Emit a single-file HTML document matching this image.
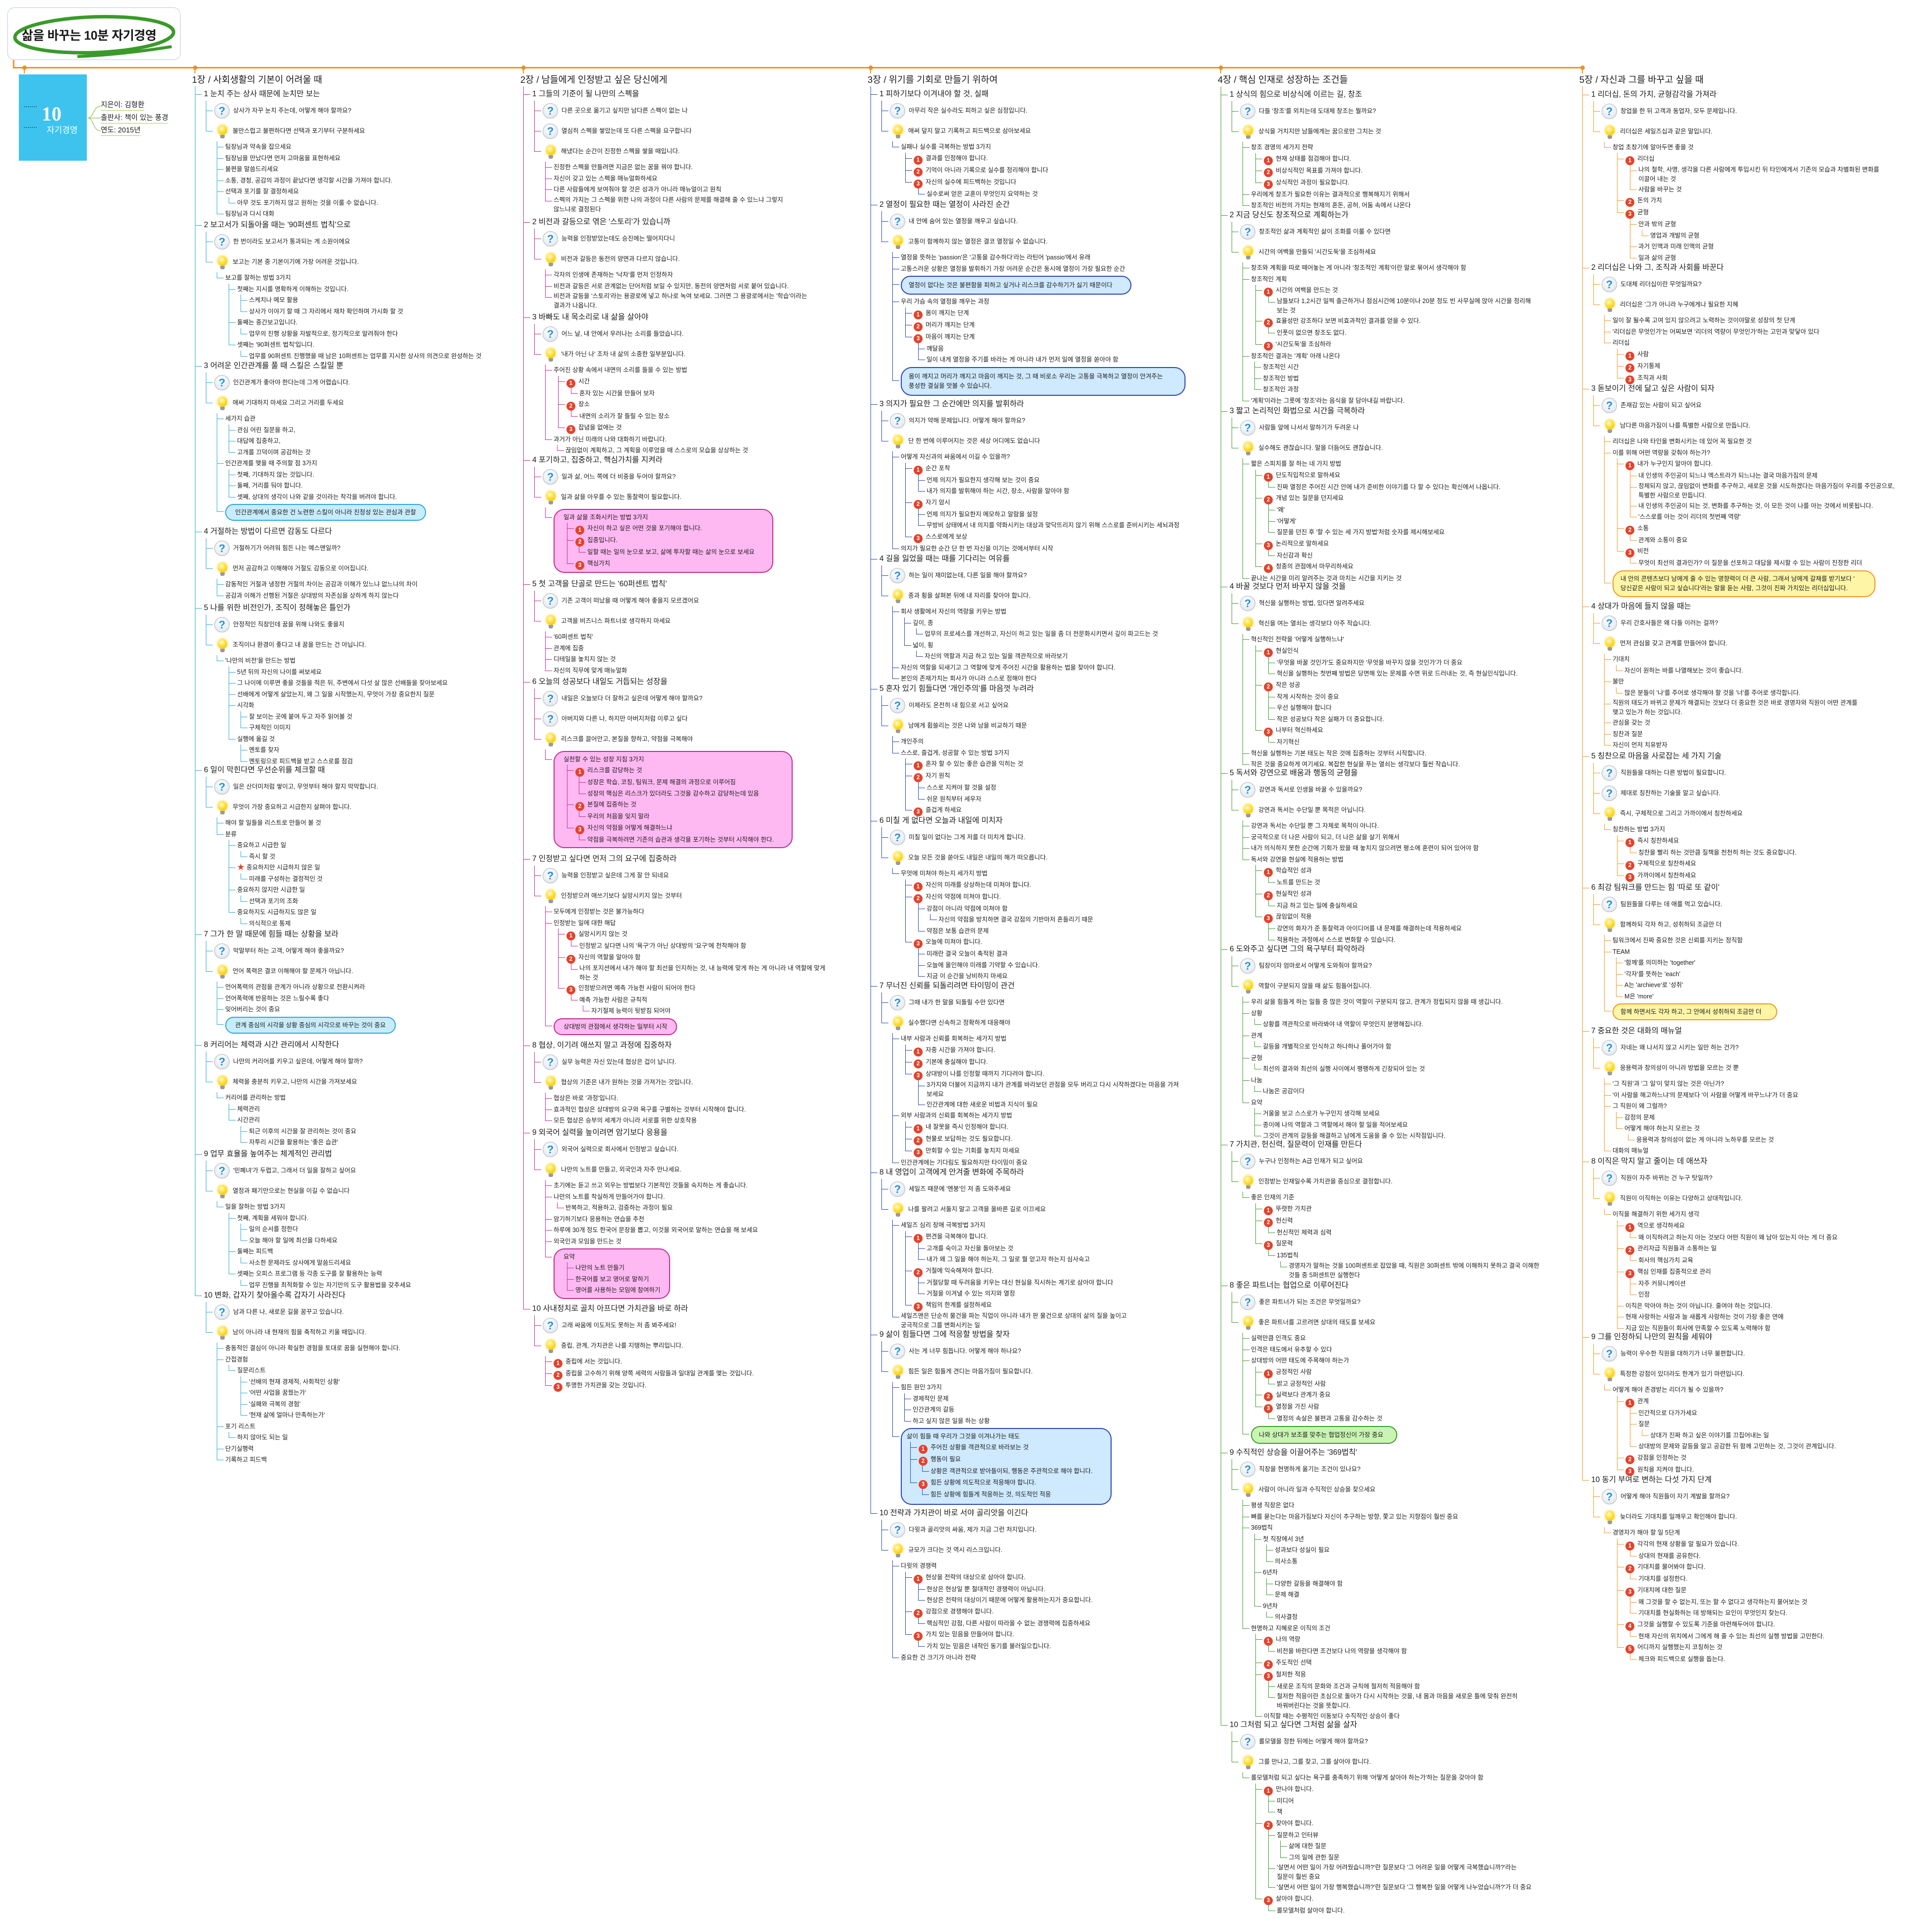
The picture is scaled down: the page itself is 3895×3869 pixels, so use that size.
<!DOCTYPE html>
<html lang="ko"><head><meta charset="utf-8">
<style>
html,body{margin:0;padding:0;background:#fff}
body{width:3895px;height:3869px;overflow:hidden;position:relative;font-family:"Liberation Sans","Noto Sans CJK KR",sans-serif;color:#1a1a1a}
.title{position:absolute;left:15px;top:15px;width:349px;height:106px;border:1.5px solid #b9c9e2;border-radius:14px;box-sizing:border-box}
.title svg{position:absolute;left:0;top:0}
.title .tt{position:absolute;left:28px;top:36px;font-size:25px;font-weight:bold;letter-spacing:-0.5px;white-space:nowrap}
.ol{position:absolute;background:#f39020}
.dot{position:absolute;width:9px;height:9px;border-radius:50%;background:#f39020}
.book{position:absolute;left:38px;top:150px;width:137px;height:174px;background:#3ec3ee}
.book .n{position:absolute;left:46px;top:56px;color:#fff;font-family:"Liberation Serif",serif;font-size:40px;font-weight:bold}
.book .k{position:absolute;left:56px;top:98px;color:#fff;font-size:17px}
.book .s1{position:absolute;left:10px;top:64px;width:26px;height:40px;border-top:2px dotted #1d6f8f;border-bottom:2px dotted #1d6f8f}
.info{position:absolute;left:203px;font-size:14.5px;white-space:nowrap;border-bottom:1.5px solid #9ccc6a;padding-bottom:1px}
.col{position:absolute;top:0}
.ch{position:absolute;left:-6px;top:149px;font-size:18.5px;white-space:nowrap;line-height:24px}
.vl{position:absolute;left:0;top:174px;border-left:1.5px solid var(--c)}
.s{position:absolute;left:0}
.h{position:relative;padding-left:18px;height:26px;line-height:26px;font-size:15.5px;white-space:nowrap}
.h::before{content:"";position:absolute;left:0;top:13px;width:14px;border-top:1.5px solid var(--c)}
ul{list-style:none;margin:0 0 0 7px;padding:0 0 0 17px}
ul.g{margin-left:22px}
ul.L{margin-left:5px}
ul.m{margin-left:9px}
li{--m:11px;position:relative;white-space:nowrap;line-height:22.5px;font-size:12.5px}
li::before{content:"";position:absolute;left:-17px;top:0;height:var(--m);width:13px;border-left:1.5px solid var(--c);border-bottom:1.5px solid var(--c)}
li::after{content:"";position:absolute;left:-17px;top:var(--m);bottom:0;border-left:1.5px solid var(--c)}
li:last-child::after{display:none}
.g>li{--m:20px}
.r{display:flex;align-items:center;height:41px;font-size:12.5px}
.qi{display:inline-block;width:29px;height:29px;border-radius:50%;background:radial-gradient(circle at 45% 35%,#ffffff,#e6eaef 70%,#c9d0d8);border:1.5px solid #aeb7c2;color:#1f8fe0;font-style:normal;font-weight:bold;font-size:22px;line-height:29px;text-align:center;margin-right:7px;box-sizing:content-box}
.bi{display:inline-block;position:relative;width:32px;height:34px;margin-right:5px}
.bi::before{content:"";position:absolute;left:7px;top:4px;width:19px;height:20px;border-radius:50%;background:radial-gradient(circle at 40% 35%,#fffbd0,#ffd91a 55%,#f2b400);box-shadow:0 0 0 3px rgba(255,220,80,.35)}
.bi::after{content:"";position:absolute;left:12px;top:24px;width:9px;height:7px;background:#9a9a9a;border-radius:0 0 3px 3px}
b{display:inline-block;width:18px;height:18px;border-radius:50%;background:#e3432c;color:#fff;font-size:11.5px;line-height:18px;text-align:center;margin-right:6px;vertical-align:-3px;font-weight:bold}
.st{color:#e3432c;font-size:15px;margin-right:4px}
.bx{display:inline-block;border:2px solid var(--c);border-radius:22px;padding:4px 18px;margin:3px 0;line-height:22px}
.bx ul{margin-left:7px}
.cy{background:#c8ecfb}
.pk{background:#ffb9f2}
.lb{background:#cfe9ff}
.gr{background:#c9f4b2}
.yl{background:#fff5a6}
</style></head><body>

<div class="title">
<svg width="349" height="106" viewBox="0 0 349 106"><ellipse cx="174" cy="54" rx="160" ry="36" fill="none" stroke="#3a9a2a" stroke-width="7" transform="rotate(-2 174 54)"/><path d="M140 98 Q230 94 330 78" stroke="#3a9a2a" stroke-width="6" fill="none"/></svg>
<div class="tt">삶을 바꾸는 10분 자기경영</div>
</div>
<div class="ol" style="left:26px;top:121px;width:2.5px;height:16px"></div>
<div class="ol" style="left:26px;top:135px;width:3166px;height:2.5px"></div>
<div class="dot" style="left:45px;top:132px"></div><div class="ol" style="left:48px;top:136px;width:2px;height:12px"></div>
<div class="dot" style="left:389px;top:132px"></div><div class="ol" style="left:392px;top:136px;width:2px;height:12px"></div>
<div class="dot" style="left:1051px;top:132px"></div><div class="ol" style="left:1054px;top:136px;width:2px;height:12px"></div>
<div class="dot" style="left:1751px;top:132px"></div><div class="ol" style="left:1754px;top:136px;width:2px;height:12px"></div>
<div class="dot" style="left:2457px;top:132px"></div><div class="ol" style="left:2460px;top:136px;width:2px;height:12px"></div>
<div class="dot" style="left:3186px;top:132px"></div><div class="ol" style="left:3189px;top:136px;width:2px;height:12px"></div>

<div class="book"><div class="s1"></div><div class="n">10</div><div class="k">자기경영</div></div>
<svg style="position:absolute;left:175px;top:200px" width="40" height="80"><path d="M2 38 C14 38 12 14 28 14 M2 38 L28 38 M2 38 C14 38 12 64 28 64" stroke="#9ccc6a" stroke-width="1.5" fill="none"/></svg>
<div class="info" style="top:200px">지은이: 김형환</div>
<div class="info" style="top:226px">출판사: 책이 있는 풍경</div>
<div class="info" style="top:251px">연도: 2015년</div>

<!-- ============ COLUMN 1 ============ -->
<div class="col" style="left:393px;--c:#2ba6dc">
<div class="ch">1장 / 사회생활의 기본이 어려울 때</div>
<div class="vl" style="height:2438px"></div>

<div class="s" style="top:177px"><div class="h">1 눈치 주는 상사 때문에 눈치만 보는</div>
<ul class="g"><li><span class="r"><i class="qi">?</i>상사가 자꾸 눈치 주는데, 어떻게 해야 할까요?</span></li>
<li><span class="r"><i class="bi"></i>불만스럽고 불편하다면 선택과 포기부터 구분하세요</span>
<ul class="L"><li>팀장님과 약속을 잡으세요</li><li>팀장님을 만났다면 먼저 고마움을 표현하세요</li><li>불편을 말씀드리세요</li><li>소통, 경청, 공감의 과정이 끝났다면 생각할 시간을 가져야 합니다.</li><li>선택과 포기를 잘 결정하세요<ul><li>아무 것도 포기하지 않고 원하는 것을 이룰 수 없습니다.</li></ul></li><li>팀장님과 다시 대화</li></ul></li></ul></div>

<div class="s" style="top:441px"><div class="h">2 보고서가 되돌아올 때는 '90퍼센트 법칙'으로</div>
<ul class="g"><li><span class="r"><i class="qi">?</i>한 번이라도 보고서가 통과되는 게 소원이에요</span></li>
<li><span class="r"><i class="bi"></i>보고는 기본 중 기본이기에 가장 어려운 것입니다.</span>
<ul class="L"><li>보고를 잘하는 방법 3가지<ul><li>첫째는 지시를 명확하게 이해하는 것입니다.<ul><li>스케치나 메모 활용</li><li>상사가 이야기 할 때 그 자리에서 재차 확인하며 가시화 할 것</li></ul></li><li>둘째는 중간보고입니다.<ul><li>업무의 진행 상황을 자발적으로, 정기적으로 알려줘야 한다</li></ul></li><li>셋째는 '90퍼센트 법칙'입니다.<ul><li>업무를 90퍼센트 진행했을 때 남은 10퍼센트는 업무를 지시한 상사의 의견으로 완성하는 것</li></ul></li></ul></li></ul></li></ul></div>

<div class="s" style="top:725px"><div class="h">3 어려운 인간관계를 풀 때 스킬은 스킬일 뿐</div>
<ul class="g"><li><span class="r"><i class="qi">?</i>인간관계가 좋아야 한다는데 그게 어렵습니다.</span></li>
<li><span class="r"><i class="bi"></i>애써 기대하지 마세요 그리고 거리를 두세요</span>
<ul class="L"><li>세가지 습관<ul><li>관심 어린 질문을 하고,</li><li>대답에 집중하고,</li><li>고개를 끄덕이며 공감하는 것</li></ul></li><li>인간관계를 맺을 때 주의할 점 3가지<ul><li>첫째, 기대하지 않는 것입니다.</li><li>둘째, 거리를 둬야 합니다.</li><li>셋째, 상대의 생각이 나와 같을 것이라는 착각을 버려야 합니다.</li></ul></li><li style="--m:18px"><div class="bx cy">인간관계에서 중요한 건 노련한 스킬이 아니라 진정성 있는 관심과 관찰</div></li></ul></li></ul></div>

<div class="s" style="top:1059px"><div class="h">4 거절하는 방법이 다르면 감동도 다르다</div>
<ul class="g"><li><span class="r"><i class="qi">?</i>거절하기가 어려워 힘든 나는 예스맨일까?</span></li>
<li><span class="r"><i class="bi"></i>먼저 공감하고 이해해야 거절도 감동으로 이어집니다.</span>
<ul class="L"><li>감동적인 거절과 냉정한 거절의 차이는 공감과 이해가 있느냐 없느냐의 차이</li><li>공감과 이해가 선행된 거절은 상대방의 자존심을 상하게 하지 않는다</li></ul></li></ul></div>

<div class="s" style="top:1213px"><div class="h">5 나를 위한 비전인가, 조직이 정해놓은 틀인가</div>
<ul class="g"><li><span class="r"><i class="qi">?</i>안정적인 직장인데 꿈을 위해 나와도 좋을지</span></li>
<li><span class="r"><i class="bi"></i>조직이나 환경이 좋다고 내 꿈을 만드는 건 아닙니다.</span>
<ul class="L"><li>'나만의 비전'을 만드는 방법<ul><li>5년 뒤의 자신의 나이를 써보세요</li><li>그 나이에 이루면 좋을 것들을 적은 뒤, 주변에서 다섯 살 많은 선배들을 찾아보세요</li><li>선배에게 어떻게 살았는지, 왜 그 일을 시작했는지, 무엇이 가장 중요한지 질문</li><li>시각화<ul><li>잘 보이는 곳에 붙여 두고 자주 읽어볼 것</li><li>구체적인 이미지</li></ul></li><li>실행에 옮길 것<ul><li>멘토를 찾자</li><li>멘토링으로 피드백을 받고 스스로를 점검</li></ul></li></ul></li></ul></li></ul></div>

<div class="s" style="top:1540px"><div class="h">6 일이 막힌다면 우선순위를 체크할 때</div>
<ul class="g"><li><span class="r"><i class="qi">?</i>일은 산더미처럼 쌓이고, 무엇부터 해야 할지 막막합니다.</span></li>
<li><span class="r"><i class="bi"></i>무엇이 가장 중요하고 시급한지 살펴야 합니다.</span>
<ul class="L"><li>해야 할 일들을 리스트로 만들어 볼 것</li><li>분류<ul><li>중요하고 시급한 일<ul><li>즉시 할 것</li></ul></li><li><span class="st">★</span>중요하지만 시급하지 않은 일<ul><li>미래를 구성하는 결정적인 것</li></ul></li><li>중요하지 않지만 시급한 일<ul><li>선택과 포기의 조화</li></ul></li><li>중요하지도 시급하지도 않은 일<ul><li>의식적으로 통제</li></ul></li></ul></li></ul></li></ul></div>

<div class="s" style="top:1871px"><div class="h">7 그가 한 말 때문에 힘들 때는 상황을 보라</div>
<ul class="g"><li><span class="r"><i class="qi">?</i>막말부터 하는 고객, 어떻게 해야 좋을까요?</span></li>
<li><span class="r"><i class="bi"></i>언어 폭력은 결코 이해해야 할 문제가 아닙니다.</span>
<ul class="L"><li>언어폭력의 관점을 관계가 아니라 상황으로 전환시켜라</li><li>언어폭력에 반응하는 것은 느릴수록 좋다</li><li>잊어버리는 것이 중요</li><li style="--m:18px"><div class="bx cy">관계 중심의 시각을 상황 중심의 시각으로 바꾸는 것이 중요</div></li></ul></li></ul></div>

<div class="s" style="top:2094px"><div class="h">8 커리어는 체력과 시간 관리에서 시작한다</div>
<ul class="g"><li><span class="r"><i class="qi">?</i>나만의 커리어를 키우고 싶은데, 어떻게 해야 할까?</span></li>
<li><span class="r"><i class="bi"></i>체력을 충분히 키우고, 나만의 시간을 가져보세요</span>
<ul class="L"><li>커리어를 관리하는 방법<ul><li>체력관리</li><li>시간관리<ul><li>퇴근 이후의 시간을 잘 관리하는 것이 중요</li><li>자투리 시간을 활용하는 '좋은 습관'</li></ul></li></ul></li></ul></li></ul></div>

<div class="s" style="top:2314px"><div class="h">9 업무 효율을 높여주는 체계적인 관리법</div>
<ul class="g"><li><span class="r"><i class="qi">?</i>'민폐녀'가 두렵고, 그래서 더 일을 잘하고 싶어요</span></li>
<li><span class="r"><i class="bi"></i>열정과 패기만으로는 현실을 이길 수 없습니다</span>
<ul class="L"><li>일을 잘하는 방법 3가지<ul><li>첫째, 계획을 세워야 합니다.<ul><li>일의 순서를 정한다</li><li>오늘 해야 할 일에 최선을 다하세요</li></ul></li><li>둘째는 피드백<ul><li>사소한 문제라도 상사에게 말씀드리세요</li></ul></li><li>셋째는 오피스 프로그램 등 각종 도구를 잘 활용하는 능력<ul><li>업무 진행을 최적화할 수 있는 자기만의 도구 활용법을 갖추세요</li></ul></li></ul></li></ul></li></ul></div>

<div class="s" style="top:2599px"><div class="h">10 변화, 갑자기 찾아올수록 갑자기 사라진다</div>
<ul class="g"><li><span class="r"><i class="qi">?</i>남과 다른 나, 새로운 길을 꿈꾸고 있습니다.</span></li>
<li><span class="r"><i class="bi"></i>남이 아니라 내 현재의 힘을 축적하고 키울 때입니다.</span>
<ul class="L"><li>충동적인 결심이 아니라 확실한 경험을 토대로 꿈을 실현해야 합니다.</li><li>간접경험<ul><li>질문리스트<ul><li>'선배의 현재 경제적, 사회적인 상황'</li><li>'어떤 사업을 꿈꿨는가'</li><li>'실패와 극복의 경험'</li><li>'현재 삶에 얼마나 만족하는가'</li></ul></li></ul></li><li>포기 리스트<ul><li>하지 않아도 되는 일</li></ul></li><li>단기실행력</li><li>기록하고 피드백</li></ul></li></ul></div>
</div>

<!-- ============ COLUMN 2 ============ -->
<div class="col" style="left:1055px;--c:#c42a8e">
<div class="ch">2장 / 남들에게 인정받고 싶은 당신에게</div>
<div class="vl" style="height:2465px"></div>

<div class="s" style="top:177px"><div class="h">1 그들의 기준이 될 나만의 스펙을</div>
<ul class="g"><li><span class="r"><i class="qi">?</i>다른 곳으로 옮기고 싶지만 남다른 스펙이 없는 나</span></li>
<li><span class="r"><i class="qi">?</i>열심히 스펙을 쌓았는데 또 다른 스펙을 요구합니다</span></li>
<li><span class="r"><i class="bi"></i>해냈다는 순간이 진정한 스펙을 쌓을 때입니다.</span>
<ul class="L"><li>진정한 스펙을 만들려면 지금은 없는 꿈을 꿔야 합니다.</li><li>자신이 갖고 있는 스펙을 매뉴얼화하세요</li><li>다른 사람들에게 보여줘야 할 것은 성과가 아니라 매뉴얼이고 원칙</li><li style="line-height:19px">스펙의 가치는 그 스펙을 위한 나의 과정이 다른 사람의 문제를 해결해 줄 수 있느냐 그렇지<br>않느냐로 결정된다</li></ul></li></ul></div>

<div class="s" style="top:435px"><div class="h">2 비전과 갈등으로 엮은 '스토리'가 있습니까</div>
<ul class="g"><li><span class="r"><i class="qi">?</i>능력을 인정받았는데도 승진에는 떨어지다니</span></li>
<li><span class="r"><i class="bi"></i>비전과 갈등은 동전의 양면과 다르지 않습니다.</span>
<ul class="L"><li>각자의 인생에 존재하는 '낙차'를 먼저 인정하자</li><li>비전과 갈등은 서로 관계없는 단어처럼 보일 수 있지만, 동전의 양면처럼 서로 붙어 있습니다.</li><li style="line-height:19px">비전과 갈등을 '스토리'라는 용광로에 넣고 하나로 녹여 보세요. 그러면 그 용광로에서는 '학습'이라는<br>결과가 나옵니다.</li></ul></li></ul></div>

<div class="s" style="top:627px"><div class="h">3 바빠도 내 목소리로 내 삶을 살아야</div>
<ul class="g"><li><span class="r"><i class="qi">?</i>어느 날, 내 안에서 우러나는 소리를 들었습니다.</span></li>
<li><span class="r"><i class="bi"></i>'내가 아닌 나' 조차 내 삶의 소중한 일부분입니다.</span>
<ul class="L"><li>주어진 상황 속에서 내면의 소리를 들을 수 있는 방법<ul class="m"><li><b>1</b>시간<ul class="m"><li>혼자 있는 시간을 만들어 보자</li></ul></li><li><b>2</b>장소<ul class="m"><li>내면의 소리가 잘 들릴 수 있는 장소</li></ul></li><li><b>3</b>잡념을 없애는 것</li></ul></li><li>과거가 아닌 미래의 나와 대화하기 바랍니다.<ul><li>끊임없이 계획하고, 그 계획을 이루었을 때 스스로의 모습을 상상하는 것</li></ul></li></ul></li></ul></div>

<div class="s" style="top:915px"><div class="h">4 포기하고, 집중하고, 핵심가치를 지켜라</div>
<ul class="g"><li><span class="r"><i class="qi">?</i>일과 삶, 어느 쪽에 더 비중을 두어야 할까요?</span></li>
<li><span class="r"><i class="bi"></i>일과 삶을 아우를 수 있는 통찰력이 필요합니다.</span>
<ul class="L"><li style="--m:20px"><div class="bx pk" style="padding-right:36px">일과 삶을 조화시키는 방법 3가지<ul class="m"><li><b>1</b>자신이 하고 싶은 어떤 것을 포기해야 합니다.</li><li><b>2</b>집중입니다.<ul class="m"><li>일할 때는 일의 눈으로 보고, 삶에 투자할 때는 삶의 눈으로 보세요</li></ul></li><li><b>3</b>핵심가치</li></ul></div></li></ul></li></ul></div>

<div class="s" style="top:1165px"><div class="h">5 첫 고객을 단골로 만드는 '60퍼센트 법칙'</div>
<ul class="g"><li><span class="r"><i class="qi">?</i>기존 고객이 떠났을 때 어떻게 해야 좋을지 모르겠어요</span></li>
<li><span class="r"><i class="bi"></i>고객을 비즈니스 파트너로 생각하지 마세요</span>
<ul class="L"><li>'60퍼센트 법칙'</li><li>관계에 집중</li><li>디테일을 놓치지 않는 것</li><li>자신의 직무에 맞게 매뉴얼화</li></ul></li></ul></div>

<div class="s" style="top:1362px"><div class="h">6 오늘의 성공보다 내일도 거듭되는 성장을</div>
<ul class="g"><li><span class="r"><i class="qi">?</i>내일은 오늘보다 더 잘하고 싶은데 어떻게 해야 할까요?</span></li>
<li><span class="r"><i class="qi">?</i>아버지와 다른 나, 하지만 아버지처럼 이루고 싶다</span></li>
<li><span class="r"><i class="bi"></i>리스크를 끌어안고, 본질을 향하고, 약점을 극복해야</span>
<ul class="L"><li style="--m:20px"><div class="bx pk" style="padding-right:36px">실천할 수 있는 성장 지침 3가지<ul class="m"><li><b>1</b>리스크를 감당하는 것<ul class="m"><li>성장은 학습, 코칭, 팀워크, 문제 해결의 과정으로 이루어짐</li><li>성장의 핵심은 리스크가 있더라도 그것을 감수하고 감당하는데 있음</li></ul></li><li><b>2</b>본질에 집중하는 것<ul class="m"><li>우리의 처음을 잊지 말라</li></ul></li><li><b>3</b>자신의 약점을 어떻게 해결하느냐<ul class="m"><li>약점을 극복하려면 기존의 습관과 생각을 포기하는 것부터 시작해야 한다.</li></ul></li></ul></div></li></ul></li></ul></div>

<div class="s" style="top:1719px"><div class="h">7 인정받고 싶다면 먼저 그의 요구에 집중하라</div>
<ul class="g"><li><span class="r"><i class="qi">?</i>능력을 인정받고 싶은데 그게 잘 안 되네요</span></li>
<li><span class="r"><i class="bi"></i>인정받으려 애쓰기보다 실망시키지 않는 것부터</span>
<ul class="L"><li>모두에게 인정받는 것은 불가능하다</li><li>인정받는 일에 대한 해답<ul class="m"><li><b>1</b>실망시키지 않는 것<ul class="m"><li>인정받고 싶다면 나의 '욕구'가 아닌 상대방의 '요구'에 천착해야 함</li></ul></li><li><b>2</b>자신의 역할을 알아야 함<ul class="m"><li style="line-height:19px">나의 포지션에서 내가 해야 할 최선을 인지하는 것, 내 능력에 맞게 하는 게 아니라 내 역할에 맞게<br>하는 것</li></ul></li><li><b>3</b>인정받으려면 예측 가능한 사람이 되어야 한다<ul class="m"><li>예측 가능한 사람은 규칙적<ul><li>자기절제 능력이 뒷받침 되어야</li></ul></li></ul></li></ul></li><li style="--m:18px"><div class="bx pk">상대방의 관점에서 생각하는 일부터 시작</div></li></ul></li></ul></div>

<div class="s" style="top:2095px"><div class="h">8 협상, 이기려 애쓰지 말고 과정에 집중하자</div>
<ul class="g"><li><span class="r"><i class="qi">?</i>실무 능력은 자신 있는데 협상은 겁이 납니다.</span></li>
<li><span class="r"><i class="bi"></i>협상의 기준은 내가 원하는 것을 가져가는 것입니다.</span>
<ul class="L"><li>협상은 바로 '과정'입니다.</li><li>효과적인 협상은 상대방의 요구와 욕구를 구별하는 것부터 시작해야 합니다.</li><li>모든 협상은 승부의 세계가 아니라 서로를 위한 상호작용</li></ul></li></ul></div>

<div class="s" style="top:2271px"><div class="h">9 외국어 실력을 높이려면 암기보다 응용을</div>
<ul class="g"><li><span class="r"><i class="qi">?</i>외국어 실력으로 회사에서 인정받고 싶습니다.</span></li>
<li><span class="r"><i class="bi"></i>나만의 노트를 만들고, 외국인과 자주 만나세요.</span>
<ul class="L"><li>초기에는 듣고 쓰고 외우는 방법보다 기본적인 것들을 숙지하는 게 좋습니다.</li><li>나만의 노트를 착실하게 만들어가야 합니다.<ul><li>반복하고, 적용하고, 검증하는 과정이 필요</li></ul></li><li>암기하기보다 응용하는 연습을 추천</li><li>하루에 30개 정도 한국어 문장을 뽑고, 이것을 외국어로 말하는 연습을 해 보세요</li><li>외국인과 모임을 만드는 것</li><li style="--m:20px"><div class="bx pk">요약<ul><li>나만의 노트 만들기</li><li>한국어를 보고 영어로 말하기</li><li>영어를 사용하는 모임에 참여하기</li></ul></div></li></ul></li></ul></div>

<div class="s" style="top:2626px"><div class="h">10 사내정치로 골치 아프다면 가치관을 바로 하라</div>
<ul class="g"><li><span class="r"><i class="qi">?</i>고래 싸움에 이도저도 못하는 저 좀 봐주세요!</span></li>
<li><span class="r"><i class="bi"></i>중립, 관계, 가치관은 나를 지탱하는 뿌리입니다.</span>
<ul class="L"><li><b>1</b>중립에 서는 것입니다.</li><li><b>2</b>중립을 고수하기 위해 양쪽 세력의 사람들과 일대일 관계를 맺는 것입니다.</li><li><b>3</b>투명한 가치관을 갖는 것입니다.</li></ul></li></ul></div>
</div>

<!-- ============ COLUMN 3 ============ -->
<div class="col" style="left:1755px;--c:#2a44b5">
<div class="ch">3장 / 위기를 기회로 만들기 위하여</div>
<div class="vl" style="height:2877px"></div>

<div class="s" style="top:177px"><div class="h">1 피하기보다 이겨내야 할 것, 실패</div>
<ul class="g"><li><span class="r"><i class="qi">?</i>아무리 작은 실수라도 피하고 싶은 심정입니다.</span></li>
<li><span class="r"><i class="bi"></i>애써 덮지 말고 기록하고 피드백으로 삼아보세요</span>
<ul class="L"><li>실패나 실수를 극복하는 방법 3가지<ul class="m"><li><b>1</b>결과를 인정해야 합니다.</li><li><b>2</b>기억이 아니라 기록으로 실수를 정리해야 합니다</li><li><b>3</b>자신의 실수에 피드백하는 것입니다<ul class="m"><li>실수로써 얻은 교훈이 무엇인지 요약하는 것</li></ul></li></ul></li></ul></li></ul></div>

<div class="s" style="top:400px"><div class="h">2 열정이 필요한 때는 열정이 사라진 순간</div>
<ul class="g"><li><span class="r"><i class="qi">?</i>내 안에 숨어 있는 열정을 깨우고 싶습니다.</span></li>
<li><span class="r"><i class="bi"></i>고통이 함께하지 않는 열정은 결코 열정일 수 없습니다.</span>
<ul class="L"><li>열정을 뜻하는 'passion'은 '고통을 감수하다'라는 라틴어 'passio'에서 유래</li><li>고통스러운 상황은 열정을 발휘하기 가장 어려운 순간은 동시에 열정이 가장 필요한 순간</li><li style="--m:20px"><div class="bx lb" style="padding:6px 36px 6px 14px">열정이 없다는 것은 불편함을 피하고 싶거나 리스크를 감수하기가 싫기 때문이다</div></li><li>우리 가슴 속의 열정을 깨우는 과정<ul class="m"><li><b>1</b>몸이 깨지는 단계</li><li><b>2</b>머리가 깨지는 단계</li><li><b>3</b>마음이 깨지는 단계<ul class="m"><li>깨달음</li><li>일이 내게 열정을 주기를 바라는 게 아니라 내가 먼저 일에 열정을 쏟아야 함</li></ul></li></ul></li><li style="--m:30px"><div class="bx lb" style="padding:8px 44px 8px 14px;line-height:19px">몸이 깨지고 머리가 깨지고 마음이 깨지는 것, 그 때 비로소 우리는 고통을 극복하고 열정이 안겨주는<br>풍성한 결실을 맛볼 수 있습니다.</div></li></ul></li></ul></div>

<div class="s" style="top:802px"><div class="h">3 의지가 필요한 그 순간에만 의지를 발휘하라</div>
<ul class="g"><li><span class="r"><i class="qi">?</i>의지가 약해 문제입니다. 어떻게 해야 할까요?</span></li>
<li><span class="r"><i class="bi"></i>단 한 번에 이루어지는 것은 세상 어디에도 없습니다</span>
<ul class="L"><li>어떻게 자신과의 싸움에서 이길 수 있을까?<ul class="m"><li><b>1</b>순간 포착<ul class="m"><li>언제 의지가 필요한지 생각해 보는 것이 중요</li><li>내가 의지를 발휘해야 하는 시간, 장소, 사람을 알아야 함</li></ul></li><li><b>2</b>자기 암시<ul class="m"><li>언제 의지가 필요한지 메모하고 알람을 설정</li><li>무방비 상태에서 내 의지를 약화시키는 대상과 맞닥뜨리지 않기 위해 스스로를 준비시키는 세뇌과정</li></ul></li><li><b>3</b>스스로에게 보상</li></ul></li><li>의지가 필요한 순간 단 한 번 자신을 이기는 것에서부터 시작</li></ul></li></ul></div>

<div class="s" style="top:1114px"><div class="h">4 길을 잃었을 때는 때를 기다리는 여유를</div>
<ul class="g"><li><span class="r"><i class="qi">?</i>하는 일이 재미없는데, 다른 일을 해야 할까요?</span></li>
<li><span class="r"><i class="bi"></i>종과 횡을 살펴본 뒤에 내 자리를 찾아야 합니다.</span>
<ul class="L"><li>회사 생활에서 자신의 역량을 키우는 방법<ul><li>깊이, 종<ul><li>업무의 프로세스를 개선하고, 자신이 하고 있는 일을 좀 더 전문화시키면서 깊이 파고드는 것</li></ul></li><li>넓이, 횡<ul><li>자신의 역할과 지금 하고 있는 일을 객관적으로 바라보기</li></ul></li></ul></li><li>자신의 역할을 되새기고 그 역할에 맞게 주어진 시간을 활용하는 법을 찾아야 합니다.</li><li>본인의 존재가치는 회사가 아니라 스스로 정해야 한다</li></ul></li></ul></div>

<div class="s" style="top:1376px"><div class="h">5 혼자 있기 힘들다면 '개인주의'를 마음껏 누려라</div>
<ul class="g"><li><span class="r"><i class="qi">?</i>이제라도 온전히 내 힘으로 서고 싶어요</span></li>
<li><span class="r"><i class="bi"></i>남에게 휩쓸리는 것은 나와 남을 비교하기 때문</span>
<ul class="L"><li>개인주의</li><li>스스로, 즐겁게, 성공할 수 있는 방법 3가지<ul class="m"><li><b>1</b>혼자 할 수 있는 좋은 습관을 익히는 것</li><li><b>2</b>자기 원칙<ul class="m"><li>스스로 지켜야 할 것을 설정</li><li>쉬운 원칙부터 세우자</li></ul></li><li><b>3</b>즐겁게 하세요</li></ul></li></ul></li></ul></div>

<div class="s" style="top:1642px"><div class="h">6 미칠 게 없다면 오늘과 내일에 미치자</div>
<ul class="g"><li><span class="r"><i class="qi">?</i>미칠 일이 없다는 그게 저를 더 미치게 합니다.</span></li>
<li><span class="r"><i class="bi"></i>오늘 모든 것을 쏟아도 내일은 내일의 해가 떠오릅니다.</span>
<ul class="L"><li>무엇에 미쳐야 하는지 세가지 방법<ul class="m"><li><b>1</b>자신의 미래를 상상하는데 미쳐야 합니다.</li><li><b>2</b>자신의 약점에 미쳐야 합니다.<ul class="m"><li>강점이 아니라 약점에 미쳐야 함<ul><li>자신의 약점을 방치하면 결국 강점의 기반마저 흔들리기 때문</li></ul></li><li>약점은 보통 습관의 문제</li></ul></li><li><b>3</b>오늘에 미쳐야 합니다.<ul class="m"><li>미래란 결국 오늘이 축적된 결과</li><li>오늘에 올인해야 미래를 기약할 수 있습니다.</li><li>지금 이 순간을 낭비하지 마세요</li></ul></li></ul></li></ul></li></ul></div>

<div class="s" style="top:1975px"><div class="h">7 무너진 신뢰를 되돌리려면 타이밍이 관건</div>
<ul class="g"><li><span class="r"><i class="qi">?</i>그때 내가 한 말을 되돌릴 수만 있다면</span></li>
<li><span class="r"><i class="bi"></i>실수했다면 신속하고 정확하게 대응해야</span>
<ul class="L"><li>내부 사람과 신뢰를 회복하는 세가지 방법<ul class="m"><li><b>1</b>자중 시간을 가져야 합니다.</li><li><b>2</b>기본에 충실해야 합니다.</li><li><b>3</b>상대방이 나를 인정할 때까지 기다려야 합니다.<ul class="m"><li style="line-height:19px">3가지와 더불어 지금까지 내가 관계를 바라보던 관점을 모두 버리고 다시 시작하겠다는 마음을 가져<br>보세요</li><li>인간관계에 대한 새로운 비법과 지식이 필요</li></ul></li></ul></li><li>외부 사람과의 신뢰를 회복하는 세가지 방법<ul class="m"><li><b>1</b>내 잘못을 즉시 인정해야 합니다.</li><li><b>2</b>현물로 보답하는 것도 필요합니다.</li><li><b>3</b>만회할 수 있는 기회를 놓치지 마세요</li></ul></li><li>인간관계에는 기다림도 필요하지만 타이밍이 중요</li></ul></li></ul></div>

<div class="s" style="top:2351px"><div class="h">8 내 영업이 고객에게 안겨줄 변화에 주목하라</div>
<ul class="g"><li><span class="r"><i class="qi">?</i>세일즈 때문에 '멘붕'인 저 좀 도와주세요</span></li>
<li><span class="r"><i class="bi"></i>나를 팔려고 서둘지 말고 고객을 올바른 길로 이끄세요</span>
<ul class="L"><li>세일즈 심리 장애 극복방법 3가지<ul class="m"><li><b>1</b>편견을 극복해야 합니다.<ul class="m"><li>고개를 숙이고 자신을 돌아보는 것</li><li>내가 왜 그 일을 해야 하는지, 그 일로 뭘 얻고자 하는지 심사숙고</li></ul></li><li><b>2</b>거절에 익숙해져야 합니다.<ul class="m"><li>거절당할 때 두려움을 키우는 대신 현실을 직시하는 계기로 삼아야 합니다</li><li>거절을 이겨낼 수 있는 의지와 열정</li></ul></li><li><b>3</b>책임의 한계를 설정하세요</li></ul></li><li style="line-height:19px">세일즈맨은 단순히 물건을 파는 직업이 아니라 내가 판 물건으로 상대의 삶의 질을 높이고<br>궁극적으로 그를 변화시키는 일</li></ul></li></ul></div>

<div class="s" style="top:2678px"><div class="h">9 삶이 힘들다면 그에 적응할 방법을 찾자</div>
<ul class="g"><li><span class="r"><i class="qi">?</i>사는 게 너무 힘듭니다. 어떻게 해야 하나요?</span></li>
<li><span class="r"><i class="bi"></i>힘든 일은 힘들게 견디는 마음가짐이 필요합니다.</span>
<ul class="L"><li>힘든 원인 3가지<ul><li>경제적인 문제</li><li>인간관계의 갈등</li><li>하고 싶지 않은 일을 하는 상황</li></ul></li><li style="--m:20px"><div class="bx lb" style="padding:4px 36px 8px 10px">삶이 힘들 때 우리가 그것을 이겨나가는 태도<ul class="m"><li><b>1</b>주어진 상황을 객관적으로 바라보는 것</li><li><b>2</b>행동이 필요<ul class="m"><li>상황은 객관적으로 받아들이되, 행동은 주관적으로 해야 합니다.</li></ul></li><li><b>3</b>힘든 상황에 의도적으로 적응해야 합니다.<ul class="m"><li>힘든 상황에 힘들게 적응하는 것, 의도적인 적응</li></ul></li></ul></div></li></ul></li></ul></div>

<div class="s" style="top:3038px"><div class="h">10 전략과 가치관이 바로 서야 골리앗을 이긴다</div>
<ul class="g"><li><span class="r"><i class="qi">?</i>다윗과 골리앗의 싸움, 제가 지금 그런 처지입니다.</span></li>
<li><span class="r"><i class="bi"></i>규모가 크다는 것 역시 리스크입니다.</span>
<ul class="L"><li>다윗의 경쟁력<ul class="m"><li><b>1</b>현상을 전략의 대상으로 삼아야 합니다.<ul class="m"><li>현상은 현상일 뿐 절대적인 경쟁력이 아닙니다.</li><li>현상은 전략의 대상이기 때문에 어떻게 활용하는지가 중요합니다.</li></ul></li><li><b>2</b>강점으로 경쟁해야 합니다.<ul class="m"><li>핵심적인 강점, 다른 사람이 따라올 수 없는 경쟁력에 집중하세요</li></ul></li><li><b>3</b>가치 있는 믿음을 만들어야 합니다.<ul class="m"><li>가치 있는 믿음은 내적인 동기를 불러일으킵니다.</li></ul></li></ul></li><li>중요한 건 크기가 아니라 전략</li></ul></li></ul></div>
</div>

<!-- ============ COLUMN 4 ============ -->
<div class="col" style="left:2461px;--c:#3c9c2c">
<div class="ch">4장 / 핵심 인재로 성장하는 조건들</div>
<div class="vl" style="height:3304px"></div>

<div class="s" style="top:178px"><div class="h">1 상식의 힘으로 비상식에 이르는 길, 창조</div>
<ul class="g"><li><span class="r"><i class="qi">?</i>다들 '창조'를 외치는데 도대체 창조는 뭘까요?</span></li>
<li><span class="r"><i class="bi"></i>상식을 거치지만 남들에게는 꿈으로만 그치는 것</span>
<ul class="L"><li>창조 경영의 세가지 전략<ul class="m"><li><b>1</b>현재 상태를 점검해야 합니다.</li><li><b>2</b>비상식적인 목표를 가져야 합니다.</li><li><b>3</b>상식적인 과정이 필요합니다.</li></ul></li><li>우리에게 창조가 필요한 이유는 결과적으로 행복해지기 위해서</li><li>창조적인 비전의 가치는 현재의 혼돈, 공허, 어둠 속에서 나온다</li></ul></li></ul></div>

<div class="s" style="top:421px"><div class="h">2 지금 당신도 창조적으로 계획하는가</div>
<ul class="g"><li><span class="r"><i class="qi">?</i>창조적인 삶과 계획적인 삶이 조화를 이룰 수 있다면</span></li>
<li><span class="r"><i class="bi"></i>시간의 여백을 만들되 '시간도둑'을 조심하세요</span>
<ul class="L"><li>창조와 계획을 따로 떼어놓는 게 아니라 '창조적인 계획'이란 말로 묶어서 생각해야 함</li><li>창조적인 계획<ul class="m"><li><b>1</b>시간의 여백을 만드는 것<ul class="m"><li style="line-height:19px">남들보다 1,2시간 일찍 출근하거나 점심시간에 10분이나 20분 정도 빈 사무실에 앉아 시간을 정리해<br>보는 것</li></ul></li><li><b>2</b>효율성만 강조하다 보면 비효과적인 결과를 얻을 수 있다.<ul class="m"><li>인풋이 없으면 창조도 없다.</li></ul></li><li><b>3</b>'시간도둑'을 조심하라</li></ul></li><li>창조적인 결과는 '계획' 아래 나온다<ul><li>창조적인 시간</li><li>창조적인 방법</li><li>창조적인 과정</li></ul></li><li>'계획'이라는 그릇에 '창조'라는 음식을 잘 담아내길 바랍니다.</li></ul></li></ul></div>

<div class="s" style="top:816px"><div class="h">3 짧고 논리적인 화법으로 시간을 극복하라</div>
<ul class="g"><li><span class="r"><i class="qi">?</i>사람들 앞에 나서서 말하기가 두려운 나</span></li>
<li><span class="r"><i class="bi"></i>실수해도 괜찮습니다. 말을 더듬어도 괜찮습니다.</span>
<ul class="L"><li>짧은 스피치를 잘 하는 네 가지 방법<ul class="m"><li><b>1</b>단도직입적으로 말하세요<ul class="m"><li>진짜 열정은 주어진 시간 안에 내가 준비한 이야기를 다 할 수 있다는 확신에서 나옵니다.</li></ul></li><li><b>2</b>개념 있는 질문을 던지세요<ul class="m"><li>'왜'</li><li>'어떻게'</li><li>질문을 던진 후 '할 수 있는 세 가지 방법'처럼 숫자를 제시해보세요</li></ul></li><li><b>3</b>논리적으로 말하세요<ul class="m"><li>자신감과 확신</li></ul></li><li><b>4</b>청중의 관점에서 마무리하세요</li></ul></li><li>끝나는 시간을 미리 알려주는 것과 마치는 시간을 지키는 것</li></ul></li></ul></div>

<div class="s" style="top:1170px"><div class="h">4 바꿀 것보다 먼저 바꾸지 않을 것을</div>
<ul class="g"><li><span class="r"><i class="qi">?</i>혁신을 실행하는 방법, 있다면 알려주세요</span></li>
<li><span class="r"><i class="bi"></i>혁신을 여는 열쇠는 생각보다 아주 작습니다.</span>
<ul class="L"><li>혁신적인 전략을 '어떻게 실행하느냐'<ul class="m"><li><b>1</b>현실인식<ul class="m"><li>'무엇을 바꿀 것인가'도 중요하지만 '무엇을 바꾸지 않을 것인가'가 더 중요</li><li>혁신을 실행하는 첫번째 방법은 당면해 있는 문제를 수면 위로 드러내는 것, 즉 현실인식입니다.</li></ul></li><li><b>2</b>작은 성공<ul class="m"><li>작게 시작하는 것이 중요</li><li>우선 실행해야 합니다</li><li>작은 성공보다 작은 실패가 더 중요합니다.</li></ul></li><li><b>3</b>나부터 혁신하세요<ul class="m"><li>자기혁신</li></ul></li></ul></li><li>혁신을 실행하는 기본 태도는 작은 것에 집중하는 것부터 시작합니다.</li><li>작은 것을 중요하게 여기세요. 복잡한 현실을 푸는 열쇠는 생각보다 훨씬 작습니다.</li></ul></li></ul></div>

<div class="s" style="top:1546px"><div class="h">5 독서와 강연으로 배움과 행동의 균형을</div>
<ul class="g"><li><span class="r"><i class="qi">?</i>강연과 독서로 인생을 바꿀 수 있을까요?</span></li>
<li><span class="r"><i class="bi"></i>강연과 독서는 수단일 뿐 목적은 아닙니다.</span>
<ul class="L"><li>강연과 독서는 수단일 뿐 그 자체로 목적이 아니다.</li><li>궁극적으로 더 나은 사람이 되고, 더 나은 삶을 살기 위해서</li><li>내가 의식하지 못한 순간에 기회가 왔을 때 놓치지 않으려면 평소에 훈련이 되어 있어야 함</li><li>독서와 강연을 현실에 적용하는 방법<ul class="m"><li><b>1</b>학습적인 성과<ul class="m"><li>노트를 만드는 것</li></ul></li><li><b>2</b>현실적인 성과<ul class="m"><li>지금 하고 있는 일에 충실하세요</li></ul></li><li><b>3</b>끊임없이 적용<ul class="m"><li>강연의 화자가 준 통찰력과 아이디어를 내 문제를 해결하는데 적용하세요</li><li>적용하는 과정에서 스스로 변화할 수 있습니다.</li></ul></li></ul></li></ul></li></ul></div>

<div class="s" style="top:1901px"><div class="h">6 도와주고 싶다면 그의 욕구부터 파악하라</div>
<ul class="g"><li><span class="r"><i class="qi">?</i>팀장이자 엄마로서 어떻게 도와줘야 할까요?</span></li>
<li><span class="r"><i class="bi"></i>역할이 구분되지 않을 때 삶도 힘들어집니다.</span>
<ul class="L"><li>우리 삶을 힘들게 하는 일들 중 많은 것이 역할이 구분되지 않고, 관계가 정립되지 않을 때 생깁니다.</li><li>상황<ul><li>상황를 객관적으로 바라봐야 내 역할이 무엇인지 분명해집니다.</li></ul></li><li>관계<ul><li>갈등을 개별적으로 인식하고 하나하나 풀어가야 함</li></ul></li><li>균형<ul><li>최선의 결과와 최선의 실행 사이에서 팽팽하게 긴장되어 있는 것</li></ul></li><li>나눔<ul><li>나눔은 공감이다</li></ul></li><li>요약<ul><li>거울을 보고 스스로가 누구인지 생각해 보세요</li><li>종이에 나의 역할과 그 역할에서 해야 할 일을 적어보세요</li><li>그것이 관계의 갈등을 해결하고 남에게 도움을 줄 수 있는 시작점입니다.</li></ul></li></ul></li></ul></div>

<div class="s" style="top:2295px"><div class="h">7 가치관, 헌신력, 질문력이 인재를 만든다</div>
<ul class="g"><li><span class="r"><i class="qi">?</i>누구나 인정하는 A급 인재가 되고 싶어요</span></li>
<li><span class="r"><i class="bi"></i>인정받는 인재일수록 가치관을 중심으로 결정합니다.</span>
<ul class="L"><li>좋은 인재의 기준<ul class="m"><li><b>1</b>뚜렷한 가치관</li><li><b>2</b>헌신력<ul class="m"><li>헌신적인 체력과 심력</li></ul></li><li><b>3</b>질문력<ul class="m"><li>135법칙<ul><li style="line-height:19px">경영자가 말하는 것을 100퍼센트로 잡았을 때, 직원은 30퍼센트 밖에 이해하지 못하고 결국 이해한<br>것들 중 5퍼센트만 실행한다</li></ul></li></ul></li></ul></li></ul></li></ul></div>

<div class="s" style="top:2579px"><div class="h">8 좋은 파트너는 협업으로 이루어진다</div>
<ul class="g"><li><span class="r"><i class="qi">?</i>좋은 파트너가 되는 조건은 무엇일까요?</span></li>
<li><span class="r"><i class="bi"></i>좋은 파트너를 고르려면 상대의 태도를 보세요</span>
<ul class="L"><li>실력만큼 인격도 중요</li><li>인격은 태도에서 유추할 수 있다</li><li>상대방의 어떤 태도에 주목해야 하는가<ul class="m"><li><b>1</b>긍정적인 사람<ul class="m"><li>밝고 긍정적인 사람</li></ul></li><li><b>2</b>실력보다 관계가 중요</li><li><b>3</b>열정을 가진 사람<ul class="m"><li>열정의 속살은 불편과 고통을 감수하는 것</li></ul></li></ul></li><li style="--m:19px"><div class="bx gr" style="padding:5px 26px 5px 14px">나와 상대가 보조를 맞추는 협업정신이 가장 중요</div></li></ul></li></ul></div>

<div class="s" style="top:2916px"><div class="h">9 수직적인 상승을 이끌어주는 '369법칙'</div>
<ul class="g"><li><span class="r"><i class="qi">?</i>직장을 현명하게 옮기는 조건이 있나요?</span></li>
<li><span class="r"><i class="bi"></i>사람이 아니라 일과 수직적인 상승을 찾으세요</span>
<ul class="L"><li>평생 직장은 없다</li><li>뼈를 묻는다는 마음가짐보다 자신이 추구하는 방향, 쫓고 있는 지향점이 훨씬 중요</li><li>369법칙<ul><li>첫 직장에서 3년<ul><li>성과보다 성실이 필요</li><li>의사소통</li></ul></li><li>6년차<ul><li>다양한 갈등을 해결해야 함</li><li>문제 해결</li></ul></li><li>9년차<ul><li>의사결정</li></ul></li></ul></li><li>현명하고 지혜로운 이직의 조건<ul class="m"><li><b>1</b>나의 역량<ul class="m"><li>비전을 바란다면 조건보다 나의 역량을 생각해야 함</li></ul></li><li><b>2</b>주도적인 선택</li><li><b>3</b>철저한 적응<ul class="m"><li>새로운 조직의 문화와 조건과 규칙에 철저히 적응해야 함</li><li style="line-height:19px">철저한 적응이란 초심으로 돌아가 다시 시작하는 것을, 내 몸과 마음을 새로운 틀에 맞춰 완전히<br>바꿔버린다는 것을 뜻합니다.</li></ul></li><li>이직할 때는 수평적인 이동보다 수직적인 상승이 좋다</li></ul></li></ul></li></ul></div>

<div class="s" style="top:3465px"><div class="h">10 그처럼 되고 싶다면 그처럼 삶을 살자</div>
<ul class="g"><li><span class="r"><i class="qi">?</i>롤모델을 정한 뒤에는 어떻게 해야 할까요?</span></li>
<li><span class="r"><i class="bi"></i>그를 만나고, 그를 찾고, 그를 살아야 합니다.</span>
<ul class="L"><li>롤모델처럼 되고 싶다는 욕구를 충족하기 위해 '어떻게 살아야 하는가'하는 질문을 갖아야 함<ul class="m"><li><b>1</b>만나야 합니다.<ul class="m"><li>미디어</li><li>책</li></ul></li><li><b>2</b>찾아야 합니다.<ul class="m"><li>질문하고 인터뷰<ul><li>삶에 대한 질문</li><li>그의 일에 관한 질문</li></ul></li><li style="line-height:19px">'살면서 어떤 일이 가장 어려웠습니까?'란 질문보다 '그 어려운 일을 어떻게 극복했습니까?'라는<br>질문이 훨씬 중요</li><li>'살면서 어떤 일이 가장 행복했습니까?'란 질문보다 '그 행복한 일을 어떻게 나누었습니까?'가 더 중요</li></ul></li><li><b>3</b>살아야 합니다.<ul class="m"><li>롤모델처럼 살아야 합니다.</li></ul></li></ul></li></ul></li></ul></div>
</div>

<!-- ============ COLUMN 5 ============ -->
<div class="col" style="left:3190px;--c:#f0961e">
<div class="ch">5장 / 자신과 그를 바꾸고 싶을 때</div>
<div class="vl" style="height:2810px"></div>

<div class="s" style="top:178px"><div class="h">1 리더십, 돈의 가치, 균형감각을 가져라</div>
<ul class="g"><li><span class="r"><i class="qi">?</i>창업을 한 뒤 고객과 동업자, 모두 문제입니다.</span></li>
<li><span class="r"><i class="bi"></i>리더십은 세일즈십과 같은 말입니다.</span>
<ul class="L"><li>창업 초창기에 알아두면 좋을 것<ul class="m"><li><b>1</b>리더십<ul class="m"><li style="line-height:19px">나의 철학, 사명, 생각을 다른 사람에게 투입시킨 뒤 타인에게서 기존의 모습과 차별화된 변화를<br>이끌어 내는 것</li><li>사람을 바꾸는 것</li></ul></li><li><b>2</b>돈의 가치</li><li><b>3</b>균형<ul class="m"><li>안과 밖의 균형<ul><li>영업과 개발의 균형</li></ul></li><li>과거 인맥과 미래 인맥의 균형</li><li>일과 삶의 균형</li></ul></li></ul></li></ul></li></ul></div>

<div class="s" style="top:527px"><div class="h">2 리더십은 나와 그, 조직과 사회를 바꾼다</div>
<ul class="g"><li><span class="r"><i class="qi">?</i>도대체 리더십이란 무엇일까요?</span></li>
<li><span class="r"><i class="bi"></i>리더십은 '그가 아니라 누구에게나 필요한 지혜</span>
<ul class="L"><li>일이 잘 될수록 고여 있지 않으려고 노력하는 것이야말로 성장의 첫 단계</li><li>'리더십은 무엇인가'는 어찌보면 '리더의 역량이 무엇인가'하는 고민과 맞닿아 있다</li><li>리더십<ul class="m"><li><b>1</b>사람</li><li><b>2</b>자기통제</li><li><b>3</b>조직과 사회</li></ul></li></ul></li></ul></div>

<div class="s" style="top:771px"><div class="h">3 돋보이기 전에 닮고 싶은 사람이 되자</div>
<ul class="g"><li><span class="r"><i class="qi">?</i>존재감 있는 사람이 되고 싶어요</span></li>
<li><span class="r"><i class="bi"></i>남다른 마음가짐이 나를 특별한 사람으로 만듭니다.</span>
<ul class="L"><li>리더십은 나와 타인을 변화시키는 데 있어 꼭 필요한 것</li><li>이를 위해 어떤 역량을 갖춰야 하는가?<ul class="m"><li><b>1</b>내가 누구인지 알아야 합니다.<ul class="m"><li>내 인생의 주인공이 되느냐 엑스트라가 되느냐는 결국 마음가짐의 문제</li><li style="line-height:19px">정체되지 않고, 끊임없이 변화를 추구하고, 새로운 것을 시도하겠다는 마음가짐이 우리를 주인공으로,<br>특별한 사람으로 만듭니다.</li><li>내 인생의 주인공이 되는 것, 변화를 추구하는 것, 이 모든 것이 나를 아는 것에서 비롯됩니다.</li><li>'스스로를 아는 것이 리더의 첫번째 역량'</li></ul></li><li><b>2</b>소통<ul class="m"><li>관계와 소통이 중요</li></ul></li><li><b>3</b>비전<ul class="m"><li>무엇이 최선의 결과인가? 이 질문을 선포하고 대답을 제시할 수 있는 사람이 진정한 리더</li></ul></li></ul></li><li style="--m:28px"><div class="bx yl" style="padding:6px 40px 6px 14px;line-height:19px">내 안의 콘텐츠보다 남에게 줄 수 있는 영향력이 더 큰 사람, 그래서 남에게 갈채를 받기보다 '<br>당신같은 사람이 되고 싶습니다'라는 말을 듣는 사람, 그것이 진짜 가치있는 리더십입니다.</div></li></ul></li></ul></div>

<div class="s" style="top:1210px"><div class="h">4 상대가 마음에 들지 않을 때는</div>
<ul class="g"><li><span class="r"><i class="qi">?</i>우리 간호사들은 왜 다들 이러는 걸까?</span></li>
<li><span class="r"><i class="bi"></i>먼저 관심을 갖고 관계를 만들어야 합니다.</span>
<ul class="L"><li>기대치<ul><li>자신이 원하는 바를 나열해보는 것이 좋습니다.</li></ul></li><li>불만<ul><li>많은 분들이 '나'를 주어로 생각해야 할 것을 '너'를 주어로 생각합니다.</li></ul></li><li style="line-height:19px">직원의 태도가 바뀌고 문제가 해결되는 것보다 더 중요한 것은 바로 경영자와 직원이 어떤 관계를<br>맺고 있는가 하는 것입니다.</li><li>관심을 갖는 것</li><li>칭찬과 질문</li><li>자신이 먼저 치유받자</li></ul></li></ul></div>

<div class="s" style="top:1512px"><div class="h">5 칭찬으로 마음을 사로잡는 세 가지 기술</div>
<ul class="g"><li><span class="r"><i class="qi">?</i>직원들을 대하는 다른 방법이 필요합니다.</span></li>
<li><span class="r"><i class="qi">?</i>제대로 칭찬하는 기술을 알고 싶습니다.</span></li>
<li><span class="r"><i class="bi"></i>즉시, 구체적으로 그리고 가까이에서 칭찬하세요</span>
<ul class="L"><li>칭찬하는 방법 3가지<ul class="m"><li><b>1</b>즉시 칭찬하세요<ul class="m"><li>칭찬을 빨리 하는 것만큼 질책을 천천히 하는 것도 중요합니다.</li></ul></li><li><b>2</b>구체적으로 칭찬하세요</li><li><b>3</b>가까이에서 칭찬하세요</li></ul></li></ul></li></ul></div>

<div class="s" style="top:1777px"><div class="h">6 최강 팀워크를 만드는 힘 '따로 또 같이'</div>
<ul class="g"><li><span class="r"><i class="qi">?</i>팀원들을 다루는 데 애를 먹고 있습니다.</span></li>
<li><span class="r"><i class="bi"></i>함께하되 각자 하고, 성취하되 조금만 더</span>
<ul class="L"><li>팀워크에서 진짜 중요한 것은 신뢰를 지키는 정직함</li><li>TEAM<ul><li>'함께'를 의미하는 'together'</li><li>'각자'를 뜻하는 'each'</li><li>A는 'archieve'로 '성취'</li><li>M은 'more'</li></ul></li><li style="--m:18px"><div class="bx yl" style="padding:4px 30px 4px 14px">함께 하면서도 각자 하고, 그 안에서 성취하되 조금만 더</div></li></ul></li></ul></div>

<div class="s" style="top:2066px"><div class="h">7 중요한 것은 대화의 매뉴얼</div>
<ul class="g"><li><span class="r"><i class="qi">?</i>자네는 왜 나서지 않고 시키는 일만 하는 건가?</span></li>
<li><span class="r"><i class="bi"></i>응용력과 창의성이 아니라 방법을 모르는 것 뿐</span>
<ul class="L"><li>'그 직원'과 '그 일'이 맞지 않는 것은 아닌가?</li><li>'이 사람을 해고하느냐'의 문제보다 '이 사람을 어떻게 바꾸느냐'가 더 중요</li><li>그 직원이 왜 그럴까?<ul><li>감정의 문제</li><li>어떻게 해야 하는지 모르는 것<ul><li>응용력과 창의성이 없는 게 아니라 노하우를 모르는 것</li></ul></li></ul></li><li>대화의 매뉴얼</li></ul></li></ul></div>

<div class="s" style="top:2329px"><div class="h">8 이직은 막지 말고 줄이는 데 애쓰자</div>
<ul class="g"><li><span class="r"><i class="qi">?</i>직원이 자주 바뀌는 건 누구 탓일까?</span></li>
<li><span class="r"><i class="bi"></i>직원이 이직하는 이유는 다양하고 상대적입니다.</span>
<ul class="L"><li>이직을 해결하기 위한 세가지 생각<ul class="m"><li><b>1</b>역으로 생각하세요<ul class="m"><li>왜 이직하려고 하는지 아는 것보다 어떤 직원이 왜 남아 있는지 아는 게 더 중요</li></ul></li><li><b>2</b>관리자급 직원들과 소통하는 일<ul class="m"><li>회사의 핵심가치 교육</li></ul></li><li><b>3</b>핵심 인재를 집중적으로 관리<ul class="m"><li>자주 커뮤니케이션</li><li>인정</li></ul></li><li>이직은 막아야 하는 것이 아닙니다. 줄여야 하는 것입니다.</li><li>현재 사랑하는 사람과 늘 새롭게 사랑하는 것이 가장 좋은 연애</li><li>지금 있는 직원들이 회사에 만족할 수 있도록 노력해야 함</li></ul></li></ul></li></ul></div>

<div class="s" style="top:2683px"><div class="h">9 그를 인정하되 나만의 원칙을 세워야</div>
<ul class="g"><li><span class="r"><i class="qi">?</i>능력이 우수한 직원을 대하기가 너무 불편합니다.</span></li>
<li><span class="r"><i class="bi"></i>특정한 강점이 있더라도 한계가 있기 마련입니다.</span>
<ul class="L"><li>어떻게 해야 존경받는 리더가 될 수 있을까?<ul class="m"><li><b>1</b>관계<ul class="m"><li>인간적으로 다가가세요</li><li>질문<ul><li>상대가 진짜 하고 싶은 이야기를 끄집어내는 일</li></ul></li><li>상대방의 문제와 갈등을 알고 공감한 뒤 함께 고민하는 것, 그것이 관계입니다.</li></ul></li><li><b>2</b>강점을 인정하는 것</li><li><b>3</b>원칙을 지켜야 합니다.</li></ul></li></ul></li></ul></div>

<div class="s" style="top:2971px"><div class="h">10 동기 부여로 변하는 다섯 가지 단계</div>
<ul class="g"><li><span class="r"><i class="qi">?</i>어떻게 해야 직원들이 자기 계발을 할까요?</span></li>
<li><span class="r"><i class="bi"></i>늦더라도 기대치를 일깨우고 확인해야 합니다.</span>
<ul class="L"><li>경영자가 해야 할 일 5단계<ul class="m"><li><b>1</b>각각의 현재 상황을 알 필요가 있습니다.<ul class="m"><li>상대의 현재를 공유한다.</li></ul></li><li><b>2</b>기대치를 물어봐야 합니다.<ul class="m"><li>기대치를 설정한다.</li></ul></li><li><b>3</b>기대치에 대한 질문<ul class="m"><li>왜 그것을 할 수 없는지, 또는 할 수 없다고 생각하는지 물어보는 것</li><li>기대치를 현실화하는 데 방해되는 요인이 무엇인지 찾는다.</li></ul></li><li><b>4</b>그것을 실행할 수 있도록 기준을 마련해두어야 합니다.<ul class="m"><li>현재 자신의 위치에서 그에게 해 줄 수 있는 최선의 실행 방법을 고민한다.</li></ul></li><li><b>5</b>어디까지 실행했는지 코칭하는 것<ul class="m"><li>체크와 피드백으로 실행을 돕는다.</li></ul></li></ul></li></ul></li></ul></div>
</div>

</body></html>
